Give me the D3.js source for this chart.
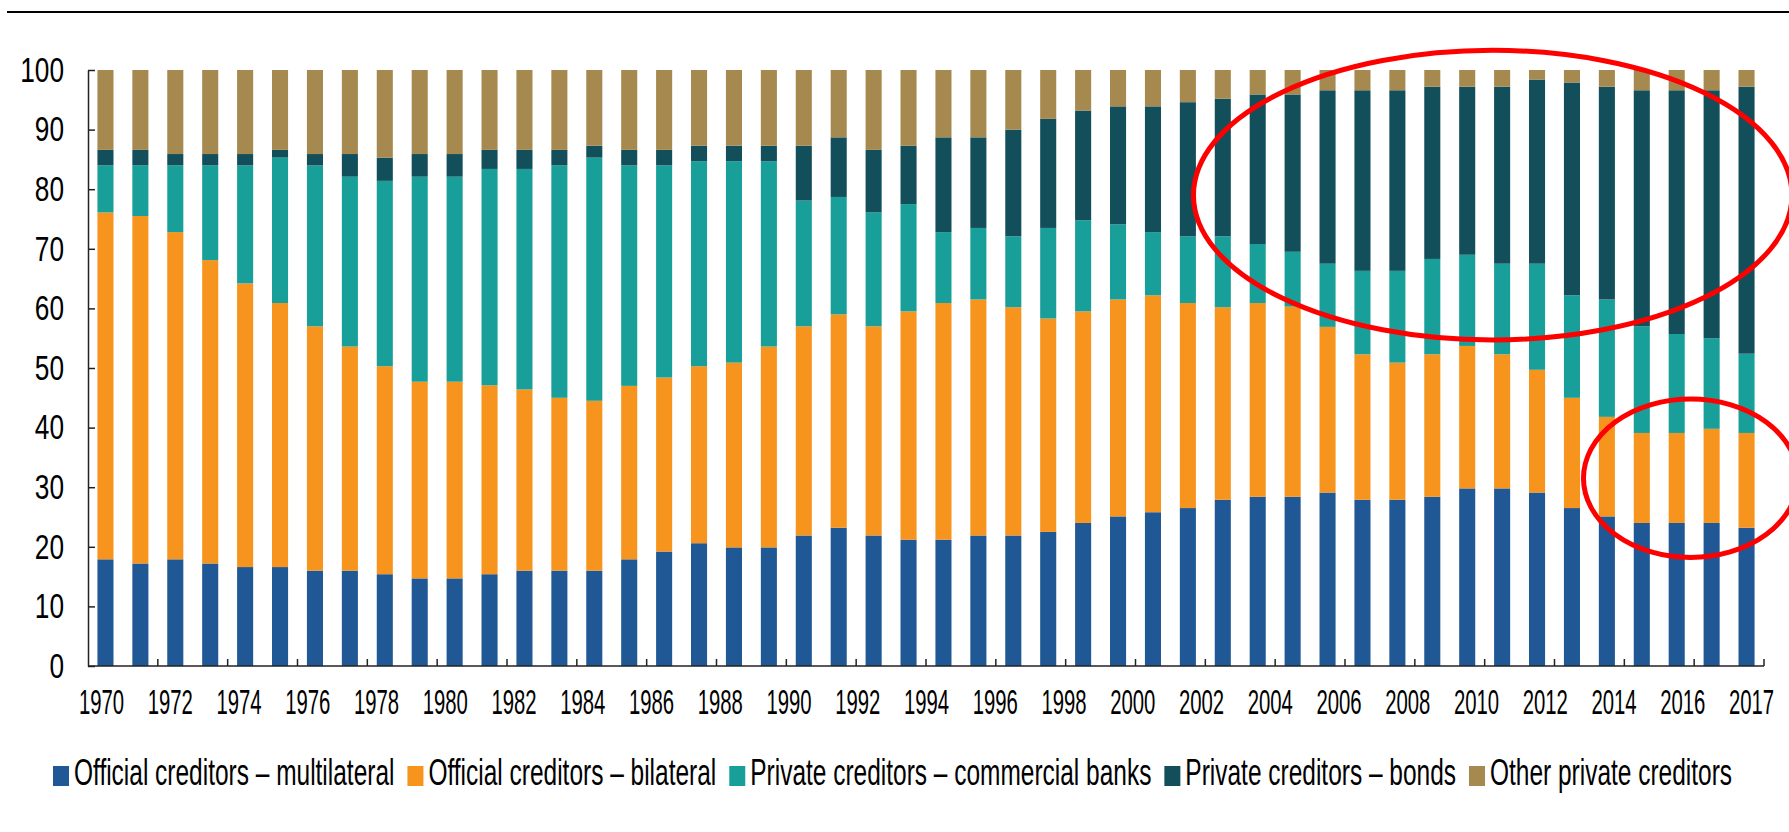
<!DOCTYPE html>
<html>
<head>
<meta charset="utf-8">
<script src="https://cdn.jsdelivr.net/npm/d3@7"></script>
<style>
  body { margin: 0; background: #fff; }
  svg { display: block; font-family: "Liberation Sans", Arial, sans-serif; }
</style>
</head>
<body>
<div id="chart"></div>
<script>
// categories
const years = [1970, 1971, 1972, 1973, 1974, 1975, 1976, 1977, 1978, 1979,
  1980, 1981, 1982, 1983, 1984, 1985, 1986, 1987, 1988, 1989,
  1990, 1991, 1992, 1993, 1994, 1995, 1996, 1997, 1998, 1999,
  2000, 2001, 2002, 2003, 2004, 2005, 2006, 2007, 2008, 2009,
  2010, 2011, 2012, 2013, 2014, 2015, 2016, 2017]

// shares of total, %
const multilateral = [17.9, 17.2, 17.9, 17.2, 16.6, 16.6, 16.0, 16.0, 15.4, 14.7,
  14.7, 15.4, 16.0, 16.0, 16.0, 17.9, 19.2, 20.6, 19.9, 19.9,
  21.9, 23.2, 21.9, 21.2, 21.2, 21.9, 21.9, 22.5, 24.0, 25.1,
  25.8, 26.5, 27.9, 28.4, 28.4, 29.1, 27.9, 27.9, 28.4, 29.8,
  29.8, 29.1, 26.5, 25.1, 24.0, 24.0, 24.0, 23.2]
const bilateral = [58.2, 58.3, 54.9, 50.9, 47.6, 44.3, 41.0, 37.6, 34.9, 33.0,
  33.0, 31.7, 30.4, 29.0, 28.5, 29.1, 29.2, 29.7, 31.0, 33.7,
  35.1, 35.8, 35.1, 38.3, 39.7, 39.6, 38.3, 35.8, 35.5, 36.4,
  36.4, 34.4, 32.3, 32.5, 31.9, 27.8, 24.4, 23.0, 23.9, 23.9,
  22.5, 20.6, 18.5, 16.7, 15.1, 15.1, 15.8, 15.9]
const commercialBanks = [7.9, 8.5, 11.2, 15.9, 19.8, 24.4, 27.0, 28.5, 31.1, 34.4,
  34.4, 36.3, 37.0, 39.0, 40.8, 37.0, 35.6, 34.4, 33.8, 31.1,
  21.1, 19.7, 19.1, 18.0, 11.9, 12.0, 11.9, 15.2, 15.3, 12.6,
  10.6, 11.2, 11.9, 9.9, 9.2, 10.6, 14.0, 15.4, 16.0, 15.3,
  15.2, 17.8, 17.2, 19.7, 17.9, 16.6, 15.2, 13.3]
const bonds = [2.6, 2.6, 1.9, 1.9, 1.9, 1.3, 1.9, 3.8, 3.9, 3.8,
  3.8, 3.2, 3.2, 2.6, 2.0, 2.6, 2.6, 2.6, 2.6, 2.6,
  9.2, 10.0, 10.5, 9.8, 15.9, 15.2, 17.9, 18.3, 18.4, 19.8,
  21.1, 22.5, 23.1, 25.1, 26.4, 29.1, 30.3, 30.3, 28.9, 28.2,
  29.7, 30.9, 35.7, 35.7, 39.6, 40.9, 41.6, 44.8]
const otherPrivate = [13.4, 13.4, 14.1, 14.1, 14.1, 13.4, 14.1, 14.1, 14.7, 14.1,
  14.1, 13.4, 13.4, 13.4, 12.7, 13.4, 13.4, 12.7, 12.7, 12.7,
  12.7, 11.3, 13.4, 12.7, 11.3, 11.3, 10.0, 8.2, 6.8, 6.1,
  6.1, 5.4, 4.8, 4.1, 4.1, 3.4, 3.4, 3.4, 2.8, 2.8,
  2.8, 1.6, 2.1, 2.8, 3.4, 3.4, 3.4, 2.8]

const seriesKeys = ["multilateral", "bilateral", "commercialBanks", "bonds", "otherPrivate"]
const seriesNames = ["Official creditors \u2013 multilateral", "Official creditors \u2013 bilateral",
  "Private creditors \u2013 commercial banks", "Private creditors \u2013 bonds", "Other private creditors"]
const seriesColors = ["#1f5894", "#f7941d", "#199f9a", "#124f5b", "#a6894f"]

const yTicks = [0, 10, 20, 30, 40, 50, 60, 70, 80, 90, 100]
const xTickLabels = [1970, 1972, 1974, 1976, 1978, 1980, 1982, 1984, 1986, 1988, 1990,
  1992, 1994, 1996, 1998, 2000, 2002, 2004, 2006, 2008, 2010, 2012, 2014, 2016, 2017]

// red hand-drawn ellipses: centre in band units / value units
const ellipseCx = [40.23, 45.9]
const ellipseCy = [79, 31.5]
const ellipseRx = [8.57, 3.07]
const ellipseRy = [24.3, 13.3]

const W = 1789, H = 832
const MARGIN = { TOP: 70, BOTTOM: 166, LEFT: 88, RIGHT: 25 }
const INNER_W = W - MARGIN.LEFT - MARGIN.RIGHT
const INNER_H = H - MARGIN.TOP - MARGIN.BOTTOM
const TEXT = "#000"
const AXIS = "#222"
const NARROW = 0.68   // squeeze Liberation Sans toward Arial Narrow look

const svg = d3.select("#chart").append("svg")
    .attr("width", W)
    .attr("height", H)

// rule across the top
svg.append("line")
    .attr("x1", 7).attr("x2", W)
    .attr("y1", 12).attr("y2", 12)
    .attr("stroke", "#000")
    .attr("stroke-width", 2)

const g = svg.append("g")
    .attr("transform", `translate(${MARGIN.LEFT},${MARGIN.TOP})`)

const x = d3.scaleBand()
    .domain(years)
    .range([0, INNER_W])
    .paddingInner(0.54)
    .paddingOuter(0.27)

// the labels sit on their own even grid, like the source
const xLabel = d3.scalePoint()
    .domain(xTickLabels)
    .range([13, INNER_W - 13])

const y = d3.scaleLinear()
    .domain([0, 100])
    .range([INNER_H, 0])

const rows = years.map((yr, i) => ({
  year: yr,
  multilateral: multilateral[i],
  bilateral: bilateral[i],
  commercialBanks: commercialBanks[i],
  bonds: bonds[i],
  otherPrivate: otherPrivate[i]
}))

const stacked = d3.stack().keys(seriesKeys)(rows)

g.selectAll("g.series")
  .data(stacked)
  .enter().append("g")
    .attr("class", "series")
    .attr("fill", (d, i) => seriesColors[i])
  .selectAll("rect")
  .data(d => d)
  .enter().append("rect")
    .attr("x", d => x(d.data.year))
    .attr("y", d => y(d[1]))
    .attr("width", x.bandwidth())
    .attr("height", d => y(d[0]) - y(d[1]))

// y axis, ticks pointing inward
const yAxis = g.append("g")
    .call(d3.axisLeft(y).tickValues(yTicks).tickSize(-7).tickSizeOuter(0))
yAxis.select(".domain").attr("stroke", AXIS).attr("stroke-width", 1.5)
yAxis.selectAll(".tick line").attr("stroke", AXIS).attr("stroke-width", 1.5)
yAxis.selectAll(".tick text")
    .attr("font-size", 35)
    .attr("fill", TEXT)
    .attr("x", -24 / 0.75)
    .attr("transform", "scale(0.75,1)")

// x axis: baseline + tick marks every other band
const xAxis = g.append("g")
    .attr("transform", `translate(0,${INNER_H})`)
xAxis.append("line")
    .attr("x1", 0).attr("x2", INNER_W)
    .attr("stroke", AXIS)
    .attr("stroke-width", 1.5)

const gap = (x.step() - x.bandwidth()) / 2
const markYears = xTickLabels.filter(yr => yr !== years[0] && yr !== years[years.length - 1])
const markX = markYears.map(yr => x(yr) - gap).concat([INNER_W])
xAxis.selectAll(".mark")
  .data(markX)
  .enter().append("line")
    .attr("class", "mark")
    .attr("x1", d => d).attr("x2", d => d)
    .attr("y1", 0).attr("y2", -7)
    .attr("stroke", AXIS)
    .attr("stroke-width", 1.5)

const labelAxis = g.append("g")
    .attr("transform", `translate(0,${INNER_H})`)
    .call(d3.axisBottom(xLabel).tickSize(0).tickSizeOuter(0).tickPadding(0))
labelAxis.select(".domain").remove()
labelAxis.selectAll(".tick text")
    .attr("font-size", 35)
    .attr("fill", TEXT)
    .attr("y", 48)
    .attr("dy", 0)
    .attr("transform", "scale(0.58,1)")

// legend
const legend = svg.append("g")
    .attr("transform", `translate(53,785)`)
let cursor = 0
seriesNames.forEach((name, i) => {
  const item = legend.append("g").attr("transform", `translate(${cursor},0)`)
  item.append("rect")
      .attr("x", 0).attr("y", -19)
      .attr("width", 16).attr("height", 20)
      .attr("fill", seriesColors[i])
  const t = item.append("text")
      .attr("x", 21 / NARROW)
      .attr("font-size", 36)
      .attr("fill", TEXT)
      .attr("transform", `scale(${NARROW},1)`)
      .text(name)
  cursor += 21 + t.node().getComputedTextLength() * NARROW + 13
})

// annotation ellipses
const band = d3.scaleLinear().domain([0, years.length]).range([0, INNER_W])
g.selectAll("ellipse")
  .data(ellipseCx)
  .enter().append("ellipse")
    .attr("cx", d => band(d))
    .attr("cy", (d, i) => y(ellipseCy[i]))
    .attr("rx", (d, i) => band(ellipseRx[i]) - band(0))
    .attr("ry", (d, i) => y(0) - y(ellipseRy[i]))
    .attr("fill", "none")
    .attr("stroke", "#ff0000")
    .attr("stroke-width", 5)
</script>
</body>
</html>
